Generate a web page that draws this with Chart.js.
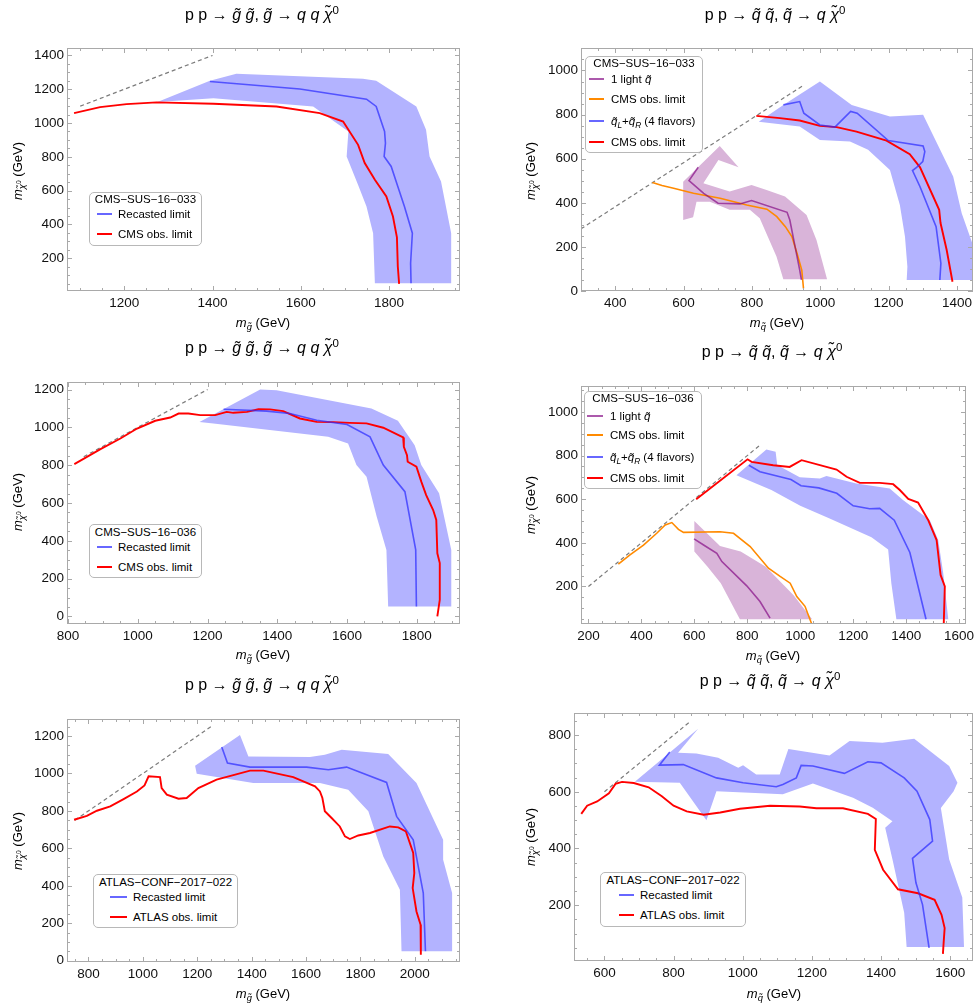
<!DOCTYPE html>
<html>
<head>
<meta charset="utf-8">
<script src="https://cdn.jsdelivr.net/npm/chart.js@4.4.0/dist/chart.umd.min.js"></script>
<style>
  body { margin: 0; background: #fff; width: 974px; height: 1007px; position: relative; overflow: hidden;
         font-family: "Liberation Sans", Arial, sans-serif; color: #000; }
  canvas { position: absolute; }
  .t { position: absolute; white-space: nowrap; transform: translate(-50%, -50%); z-index: 5; }
  .lt { position: absolute; white-space: nowrap; transform: translate(0, -50%); z-index: 6; font-size: 11.5px; }
  .title { font-size: 16px; }
  .ax { font-size: 13px; }
  .rot { transform: translate(-50%, -50%) rotate(-90deg); }
  .leg { position: absolute; box-sizing: border-box; border: 1px solid #b8b8b8; border-radius: 5px; background: #fff; z-index: 4; }
  .sw { position: absolute; height: 2px; z-index: 6; }
  sub { font-size: 72%; vertical-align: -0.35em; line-height: 0; }
  sup { font-size: 72%; vertical-align: 0.55em; line-height: 0; }
</style>
</head>
<body>
<script>
// --- values: gluino panels (band, recasted limit, experiment limit, m_chi = m_gluino line) ---
const p1XTicks = [1200, 1400, 1600, 1800];
const p1YTicks = [200, 400, 600, 800, 1000, 1200, 1400];
const p1Diag = [[1100, 1100], [1400, 1400]];
const p1Band = [[1275,1125],[1394,1250],[1454,1291],[1741,1262],[1771,1250],[1862,1098],[1884,960],[1892,802],[1918,654],[1941,348],[1941,52],[1768,52],[1764,348],[1749,506],[1730,634],[1704,802],[1708,950],[1628,1098],[1402,1147]];
const p1Recast = [[1394,1246],[1598,1201],[1749,1141],[1771,1098],[1790,950],[1792,881],[1789,802],[1805,743],[1820,624],[1835,506],[1853,348],[1849,170],[1850,52]];
const p1Obs = [[1086,1059],[1145,1094],[1205,1112],[1273,1122],[1402,1114],[1545,1098],[1643,1059],[1696,1009],[1730,871],[1745,763],[1768,664],[1794,565],[1809,447],[1818,324],[1820,151],[1823,48]];

const p3XTicks = [800, 1000, 1200, 1400, 1600, 1800];
const p3YTicks = [0, 200, 400, 600, 800, 1000, 1200];
const p3Diag = [[845, 845], [1200, 1200]];
const p3Band = [[1177,1029],[1351,1200],[1398,1197],[1670,1100],[1746,1035],[1794,906],[1813,801],[1864,651],[1899,352],[1899,53],[1718,53],[1713,352],[1685,528],[1656,739],[1627,801],[1603,915],[1546,950],[1217,1021]];
const p3Recast = [[1246,1096],[1370,1086],[1436,1073],[1513,1038],[1600,1015],[1666,950],[1704,801],[1766,660],[1797,352],[1799,53]];
const p3Obs = [[818,806],[893,885],[950,941],[998,994],[1050,1035],[1093,1052],[1117,1073],[1145,1073],[1179,1065],[1222,1065],[1255,1082],[1274,1077],[1313,1082],[1346,1096],[1379,1095],[1417,1086],[1465,1047],[1513,1029],[1561,1028],[1608,1024],[1656,1021],[1704,998],[1761,947],[1763,897],[1772,853],[1774,818],[1799,792],[1813,713],[1827,642],[1847,563],[1856,510],[1859,334],[1866,282],[1866,88],[1859,0]];

const p5XTicks = [800, 1000, 1200, 1400, 1600, 1800, 2000];
const p5YTicks = [0, 200, 400, 600, 800, 1000, 1200];
const p5Diag = [[750, 750], [1250, 1250]];
const p5Band = [[1192,1041],[1357,1205],[1388,1091],[1614,1088],[1669,1100],[1731,1127],[1902,1104],[2006,949],[2104,646],[2104,539],[2137,361],[2137,50],[1951,50],[1945,379],[1884,557],[1829,798],[1755,913],[1651,949],[1406,949],[1198,999]];
const p5Recast = [[1290,1141],[1311,1056],[1394,1034],[1602,1034],[1682,1020],[1749,1034],[1896,952],[1933,771],[1994,646],[2031,361],[2039,50]];
const p5Obs = [[747,753],[794,774],[831,801],[880,824],[929,863],[978,904],[1006,936],[1021,985],[1063,981],[1069,922],[1088,887],[1131,865],[1161,869],[1204,922],[1271,967],[1394,1015],[1443,1015],[1553,981],[1633,931],[1651,904],[1660,869],[1669,798],[1694,762],[1724,717],[1743,664],[1761,650],[1792,669],[1835,682],[1908,717],[1939,712],[1967,691],[1994,575],[1998,468],[1992,388],[2006,263],[2021,192],[2022,32]];

// --- values: squark panels ---
const p2XTicks = [400, 600, 800, 1000, 1200, 1400];
const p2YTicks = [0, 200, 400, 600, 800, 1000];
const p2Diag = [[300, 282], [952, 934]];
const p2LightBand = [[599,496],[706,658],[761,561],[702,594],[658,489],[735,451],[799,481],[843,458],[897,428],[960,345],[989,231],[1020,53],[892,53],[872,156],[823,330],[794,368],[735,368],[677,405],[638,405],[628,335],[599,322]];
const p2Light = [[643,561],[616,501],[659,443],[701,398],[765,395],[799,410],[903,357],[911,322],[940,95],[945,50]];
const p2LightObs = [[509,492],[537,478],[571,466],[629,443],[707,421],[785,390],[844,371],[873,337],[898,292],[917,247],[932,171],[946,95],[951,12]];
const p2FlavBand = [[820,768],[892,844],[999,950],[1092,844],[1204,791],[1301,799],[1389,519],[1414,353],[1460,150],[1460,50],[1253,50],[1255,110],[1248,246],[1233,390],[1204,549],[1140,640],[1087,678],[999,685],[940,746]];
const p2Flav = [[892,844],[940,859],[952,806],[999,753],[1043,743],[1089,814],[1108,806],[1199,682],[1301,658],[1306,632],[1300,587],[1282,561],[1270,546],[1292,473],[1339,292],[1353,126],[1350,50]];
const p2FlavObs = [[813,794],[882,784],[940,773],[999,749],[1048,743],[1106,723],[1194,682],[1262,620],[1292,561],[1348,368],[1352,308],[1370,186],[1387,42]];

const p4XTicks = [200, 400, 600, 800, 1000, 1200, 1400, 1600];
const p4YTicks = [200, 400, 600, 800, 1000];
const p4Diag = [[200, 200], [850, 850]];
const p4LightBand = [[600,500],[697,385],[775,360],[870,290],[975,160],[1045,50],[772,50],[700,215],[650,290],[600,360]];
const p4Light = [[599,418],[635,390],[685,352],[704,314],[798,203],[848,131],[886,55]];
const p4LightObs = [[313,302],[357,345],[408,390],[458,444],[490,482],[515,493],[540,462],[559,448],[697,451],[748,444],[811,383],[880,284],[924,246],[962,215],[987,154],[1018,109],[1043,29]];
const p4FlavBand = [[759,710],[872,828],[907,818],[913,757],[998,701],[1074,695],[1099,706],[1212,672],[1338,649],[1388,596],[1489,505],[1521,413],[1540,261],[1559,50],[1363,50],[1344,215],[1332,369],[1269,426],[1111,512],[1000,570],[891,642]];
const p4Flav = [[806,756],[848,726],[965,690],[1003,662],[1070,652],[1138,627],[1200,570],[1262,556],[1300,558],[1355,504],[1414,356],[1475,50]];
const p4FlavObs = [[607,600],[801,783],[816,771],[898,756],[960,748],[1005,779],[1137,736],[1175,703],[1225,675],[1300,675],[1351,669],[1376,642],[1408,601],[1445,585],[1483,505],[1515,413],[1530,253],[1546,200],[1542,30]];

const p6XTicks = [600, 800, 1000, 1200, 1400, 1600];
const p6YTicks = [200, 400, 600, 800];
const p6Diag = [[600, 600], [850, 850]];
const p6Band = [[688,635],[871,822],[813,738],[866,735],[929,720],[987,685],[1001,694],[1039,661],[1107,661],[1132,751],[1251,728],[1309,779],[1404,773],[1496,787],[1597,691],[1621,632],[1610,602],[1573,543],[1597,362],[1635,227],[1640,52],[1474,52],[1467,173],[1433,362],[1412,473],[1433,496],[1376,544],[1319,579],[1203,629],[1116,591],[924,602],[895,500],[818,632]];
const p6Recast = [[789,740],[759,694],[828,696],[924,649],[1001,632],[1097,618],[1116,626],[1155,649],[1169,693],[1203,691],[1294,665],[1362,706],[1400,702],[1467,649],[1504,602],[1541,502],[1549,426],[1491,365],[1501,279],[1520,202],[1539,49]];
const p6Obs = [[533,522],[550,551],[579,566],[613,595],[632,628],[651,635],[685,631],[728,616],[766,584],[800,551],[838,531],[887,519],[935,527],[992,540],[1079,551],[1165,548],[1213,542],[1290,542],[1362,522],[1385,504],[1382,395],[1406,325],[1449,256],[1507,242],[1555,219],[1575,166],[1584,119],[1581,66],[1579,28]];

// --- styles ---
const BLUE_FILL = 'rgb(179,179,255)';
const BLUE = 'rgba(45,45,255,0.72)';
const PURPLE_FILL = 'rgb(217,180,217)';
const PURPLE = 'rgba(128,0,128,0.65)';
const RED = '#ff0000';
const ORANGE = '#ff8a00';
const FONT = "'Liberation Sans', Arial, sans-serif";

const pts = a => a.map(([x, y]) => ({x, y}));
const band = (a, c) => ({data: pts(a), fill: 'shape', backgroundColor: c, borderColor: 'rgba(0,0,0,0)', borderWidth: 0, pointRadius: 0, order: 3});
const curve = (a, c, w) => ({data: pts(a), fill: false, borderColor: c, borderWidth: w, pointRadius: 0, tension: 0, order: 1});
const diag = a => ({data: pts(a), fill: false, borderColor: '#7c7c7c', borderWidth: 1.2, borderDash: [4, 3], pointRadius: 0, order: 2});

// Mathematica-style frame: grey box with inward major/minor ticks on every side
const frameTicks = {
  id: 'frameTicks',
  afterDatasetsDraw(chart, args, opts) {
    const {ctx, chartArea: a, scales: {x, y}} = chart;
    ctx.save();
    ctx.strokeStyle = '#a9a9a9';
    ctx.lineWidth = 1;
    ctx.strokeRect(a.left + 0.5, a.top + 0.5, a.right - a.left - 1, a.bottom - a.top - 1);
    ctx.beginPath();
    for (let v = Math.ceil(x.min / opts.minor) * opts.minor; v <= x.max; v += opts.minor) {
      const px = Math.round(x.getPixelForValue(v)) + 0.5;
      const len = v % opts.major === 0 ? 5 : 3;
      ctx.moveTo(px, a.bottom); ctx.lineTo(px, a.bottom - len);
      ctx.moveTo(px, a.top); ctx.lineTo(px, a.top + len);
    }
    for (let v = Math.ceil(y.min / opts.minor) * opts.minor; v <= y.max; v += opts.minor) {
      const py = Math.round(y.getPixelForValue(v)) + 0.5;
      const len = v % opts.major === 0 ? 5 : 3;
      ctx.moveTo(a.left, py); ctx.lineTo(a.left + len, py);
      ctx.moveTo(a.right, py); ctx.lineTo(a.right - len, py);
    }
    ctx.stroke();
    ctx.restore();
  }
};

const panels = [
  {cell: [0, 0, 487, 330], frame: [67, 48, 460, 291], x: [1070, 1961], y: [6, 1444], xTicks: p1XTicks, yTicks: p1YTicks,
   series: [band(p1Band, BLUE_FILL), diag(p1Diag), curve(p1Recast, BLUE, 1.6), curve(p1Obs, RED, 1.9)]},
  {cell: [487, 0, 974, 330], frame: [581, 48, 973, 291], x: [300, 1447], y: [0, 1102], xTicks: p2XTicks, yTicks: p2YTicks,
   series: [band(p2LightBand, PURPLE_FILL), band(p2FlavBand, BLUE_FILL), diag(p2Diag),
            curve(p2Light, PURPLE, 1.6), curve(p2LightObs, ORANGE, 1.6), curve(p2Flav, BLUE, 1.6), curve(p2FlavObs, RED, 1.9)]},
  {cell: [0, 330, 487, 660], frame: [67, 382, 460, 624], x: [797, 1924], y: [-40, 1240], xTicks: p3XTicks, yTicks: p3YTicks,
   series: [band(p3Band, BLUE_FILL), diag(p3Diag), curve(p3Recast, BLUE, 1.6), curve(p3Obs, RED, 1.9)]},
  {cell: [487, 330, 974, 660], frame: [581, 386, 966, 624], x: [172, 1626], y: [28, 1119], xTicks: p4XTicks, yTicks: p4YTicks,
   series: [band(p4LightBand, PURPLE_FILL), band(p4FlavBand, BLUE_FILL), diag(p4Diag),
            curve(p4Light, PURPLE, 1.6), curve(p4LightObs, ORANGE, 1.6), curve(p4Flav, BLUE, 1.6), curve(p4FlavObs, RED, 1.9)]},
  {cell: [0, 660, 487, 1007], frame: [67, 719, 460, 962], x: [721, 2166], y: [-7, 1291], xTicks: p5XTicks, yTicks: p5YTicks,
   series: [band(p5Band, BLUE_FILL), diag(p5Diag), curve(p5Recast, BLUE, 1.6), curve(p5Obs, RED, 1.9)]},
  {cell: [487, 660, 974, 1007], frame: [574, 713, 973, 961], x: [512, 1666], y: [3, 878], xTicks: p6XTicks, yTicks: p6YTicks,
   series: [band(p6Band, BLUE_FILL), diag(p6Diag), curve(p6Recast, BLUE, 1.6), curve(p6Obs, RED, 1.9)]}
];

function makeChart(p) {
  const [cl, ct, cr, cb] = p.cell;
  const [fl, ft, fr, fb] = p.frame;
  const cv = document.createElement('canvas');
  cv.width = cr - cl;
  cv.height = cb - ct;
  cv.style.left = cl + 'px';
  cv.style.top = ct + 'px';
  document.body.appendChild(cv);
  const tickFont = {family: FONT, size: 13.5};
  new Chart(cv, {
    type: 'line',
    data: {datasets: p.series},
    options: {
      responsive: false,
      animation: false,
      events: [],
      layout: {padding: {left: 0, top: ft - ct, right: cr - fr, bottom: 0}},
      plugins: {legend: {display: false}, tooltip: {enabled: false}, frameTicks: {major: 200, minor: 50}},
      scales: {
        x: {
          type: 'linear', min: p.x[0], max: p.x[1],
          grid: {display: false, drawTicks: false}, border: {display: false},
          afterBuildTicks: s => { s.ticks = p.xTicks.map(v => ({value: v})); },
          afterFit: s => { s.height = cb - fb; s.paddingLeft = 0; s.paddingRight = 0; },
          ticks: {padding: 4, maxRotation: 0, autoSkip: false, color: '#111', font: tickFont, callback: v => String(v)}
        },
        y: {
          type: 'linear', min: p.y[0], max: p.y[1],
          grid: {display: false, drawTicks: false}, border: {display: false},
          afterBuildTicks: s => { s.ticks = p.yTicks.map(v => ({value: v})); },
          afterFit: s => { s.width = fl - cl; s.paddingTop = 0; s.paddingBottom = 0; },
          ticks: {padding: 3, autoSkip: false, color: '#111', font: tickFont, callback: v => String(v)}
        }
      }
    },
    plugins: [frameTicks]
  });
}
panels.forEach(makeChart);

// --- titles, axis labels and legends ---
function put(cls, html, x, y) {
  const d = document.createElement('div');
  d.className = cls;
  d.innerHTML = html;
  d.style.left = x + 'px';
  d.style.top = y + 'px';
  document.body.appendChild(d);
  return d;
}

const T = '&#771;';
const gluinoTitle = `p p → <i>g${T}</i> <i>g${T}</i>, <i>g${T}</i> → <i>q</i> <i>q</i> <i>χ${T}</i><sup>0</sup>`;
const squarkTitle = `p p → <i>q${T}</i> <i>q${T}</i>, <i>q${T}</i> → <i>q</i> <i>χ${T}</i><sup>0</sup>`;
const xGluino = `<i>m</i><sub><i>g${T}</i></sub> (GeV)`;
const xSquark = `<i>m</i><sub><i>q${T}</i></sub> (GeV)`;
const yLabel = `<i>m</i><sub><i>χ${T}</i><sup>0</sup></sub> (GeV)`;

[[gluinoTitle, 262, 15], [squarkTitle, 775, 15], [gluinoTitle, 262, 348],
 [squarkTitle, 772, 352], [gluinoTitle, 262, 685], [squarkTitle, 770, 681]]
  .forEach(([h, x, y]) => put('t title', h, x, y));

[[xGluino, 263, 322], [xSquark, 777, 322], [xGluino, 263, 654],
 [xSquark, 773, 655], [xGluino, 263, 993], [xSquark, 774, 993]]
  .forEach(([h, x, y]) => put('t ax', h, x, y));

[[17, 171], [530, 171], [17, 502], [530, 505], [17, 841], [530, 837]]
  .forEach(([x, y]) => put('t ax rot', yLabel, x, y));

const lightLbl = `1 light <i>q${T}</i>`;
const flavLbl = `<i>q${T}</i><sub><i>L</i></sub>+<i>q${T}</i><sub><i>R</i></sub> (4 flavors)`;

const legends = [
  {box: [89, 192, 202, 246], title: ['CMS−SUS−16−033', 199], sw: [97, 112], tx: 118,
   items: [[BLUE, 'Recasted limit', 214], [RED, 'CMS obs. limit', 234]]},
  {box: [585, 56, 703, 153], title: ['CMS−SUS−16−033', 63], sw: [589, 604], tx: 611,
   items: [[PURPLE, lightLbl, 79], [ORANGE, 'CMS obs. limit', 99], [BLUE, flavLbl, 121], [RED, 'CMS obs. limit', 142]]},
  {box: [89, 524, 202, 578], title: ['CMS−SUS−16−036', 532], sw: [97, 112], tx: 118,
   items: [[BLUE, 'Recasted limit', 547], [RED, 'CMS obs. limit', 567]]},
  {box: [584, 391, 702, 489], title: ['CMS−SUS−16−036', 398], sw: [587, 603], tx: 610,
   items: [[PURPLE, lightLbl, 416], [ORANGE, 'CMS obs. limit', 435], [BLUE, flavLbl, 457], [RED, 'CMS obs. limit', 478]]},
  {box: [93, 874, 238, 928], title: ['ATLAS−CONF−2017−022', 882], sw: [110, 127], tx: 133,
   items: [[BLUE, 'Recasted limit', 897], [RED, 'ATLAS obs. limit', 917]]},
  {box: [600, 872, 746, 927], title: ['ATLAS−CONF−2017−022', 880], sw: [619, 634], tx: 640,
   items: [[BLUE, 'Recasted limit', 895], [RED, 'ATLAS obs. limit', 915]]}
];

legends.forEach(lg => {
  const [l, t, r, b] = lg.box;
  const box = document.createElement('div');
  box.className = 'leg';
  Object.assign(box.style, {left: l + 'px', top: t + 'px', width: (r - l) + 'px', height: (b - t) + 'px'});
  document.body.appendChild(box);
  const ttl = put('t', lg.title[0], (l + r) / 2, lg.title[1]);
  ttl.style.fontSize = '11.5px';
  ttl.style.zIndex = 6;
  lg.items.forEach(([color, html, y]) => {
    const s = document.createElement('div');
    s.className = 'sw';
    Object.assign(s.style, {left: lg.sw[0] + 'px', top: (y - 1) + 'px', width: (lg.sw[1] - lg.sw[0]) + 'px', background: color});
    document.body.appendChild(s);
    put('lt', html, lg.tx, y);
  });
});
</script>
</body>
</html>
